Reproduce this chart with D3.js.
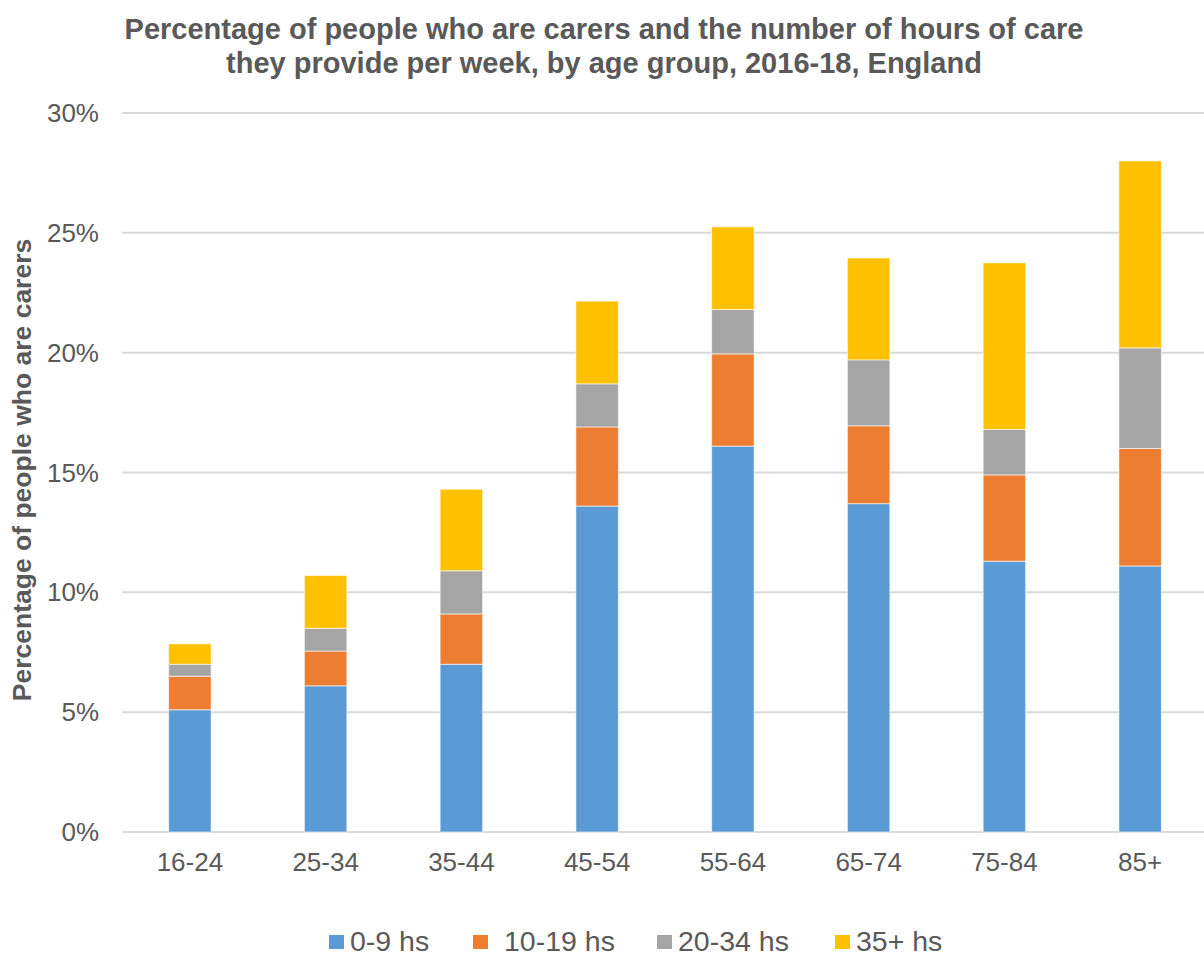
<!DOCTYPE html>
<html>
<head>
<meta charset="utf-8">
<script src="https://cdn.jsdelivr.net/npm/d3@7"></script>
<style>
  body { margin: 0; background: #fff; }
  svg { display: block; font-family: 'Liberation Sans', Arial, sans-serif; }
</style>
</head>
<body>
<svg width="1204" height="953"></svg>
<script>
'use strict'

const ageGroups = ['16-24', '25-34', '35-44', '45-54', '55-64', '65-74', '75-84', '85+']
const seriesNames = ['0-9 hs', '10-19 hs', '20-34 hs', '35+ hs']
const hours0to9 = [5.1, 6.1, 7.0, 13.6, 16.1, 13.7, 11.3, 11.1]
const hours10to19 = [1.4, 1.45, 2.1, 3.3, 3.85, 3.25, 3.6, 4.9]
const hours20to34 = [0.5, 0.95, 1.8, 1.8, 1.85, 2.75, 1.9, 4.2]
const hours35plus = [0.85, 2.2, 3.4, 3.45, 3.45, 4.25, 6.95, 7.8]
const yTicks = [0, 5, 10, 15, 20, 25, 30]
const colors = ['#5B9BD5', '#ED7D31', '#A5A5A5', '#FFC000']

const textColor = '#595959'
const svg = d3.select('svg')

const table = ageGroups.map((g, i) => ({
  group: g,
  '0-9 hs': hours0to9[i],
  '10-19 hs': hours10to19[i],
  '20-34 hs': hours20to34[i],
  '35+ hs': hours35plus[i]
}))

const stacked = d3.stack().keys(seriesNames)(table)

const xScale = d3.scaleBand()
  .domain(ageGroups)
  .range([122, 1208])
  .paddingInner(0.687)
  .paddingOuter(0.3435)

const yScale = d3.scaleLinear()
  .domain([0, 30])
  .range([832, 113])

const color = d3.scaleOrdinal().domain(seriesNames).range(colors)

// gridlines
svg.append('g')
  .selectAll('line')
  .data(yTicks)
  .join('line')
  .attr('x1', 122)
  .attr('x2', 1204)
  .attr('y1', d => yScale(d))
  .attr('y2', d => yScale(d))
  .attr('stroke', '#d9d9d9')
  .attr('stroke-width', 2)

// y tick labels
svg.append('g')
  .selectAll('text')
  .data(yTicks)
  .join('text')
  .attr('x', 99)
  .attr('y', d => yScale(d))
  .attr('dy', '0.35em')
  .attr('text-anchor', 'end')
  .attr('font-size', 26)
  .attr('fill', textColor)
  .text(d => d + '%')

// bars
svg.append('g')
  .selectAll('g')
  .data(stacked)
  .join('g')
  .attr('fill', d => color(d.key))
  .selectAll('rect')
  .data(d => d)
  .join('rect')
  .attr('x', d => xScale(d.data.group))
  .attr('width', xScale.bandwidth())
  .attr('y', d => yScale(d[1]))
  .attr('height', d => yScale(d[0]) - yScale(d[1]))
  .attr('stroke', '#fff')
  .attr('stroke-opacity', 0.6)
  .attr('stroke-width', 1)

// x tick labels
svg.append('g')
  .selectAll('text')
  .data(ageGroups)
  .join('text')
  .attr('x', d => xScale(d) + xScale.bandwidth() / 2)
  .attr('y', 871)
  .attr('text-anchor', 'middle')
  .attr('font-size', 26)
  .attr('fill', textColor)
  .text(d => d)

// title
const title = svg.append('text')
  .attr('text-anchor', 'middle')
  .attr('font-size', 29)
  .attr('font-weight', 'bold')
  .attr('fill', textColor)
title.append('tspan').attr('x', 604).attr('y', 39)
  .text('Percentage of people who are carers and the number of hours of care')
title.append('tspan').attr('x', 604).attr('y', 73)
  .text('they provide per week, by age group, 2016-18, England')

// y axis title
svg.append('text')
  .attr('transform', 'translate(31,470) rotate(-90)')
  .attr('text-anchor', 'middle')
  .attr('font-size', 26.5)
  .attr('font-weight', 'bold')
  .attr('fill', textColor)
  .text('Percentage of people who are carers')

// legend
const legendX = [329, 473, 657, 835]
const legend = svg.append('g')
  .selectAll('g')
  .data(seriesNames)
  .join('g')
  .attr('transform', (d, i) => 'translate(' + legendX[i] + ',935)')

legend.append('rect')
  .attr('width', 15)
  .attr('height', 14)
  .attr('fill', d => color(d))

legend.append('text')
  .attr('x', (d, i) => i === 1 ? 31 : 21)
  .attr('y', 16)
  .attr('font-size', 28.5)
  .attr('fill', textColor)
  .text(d => d)
</script>
</body>
</html>
